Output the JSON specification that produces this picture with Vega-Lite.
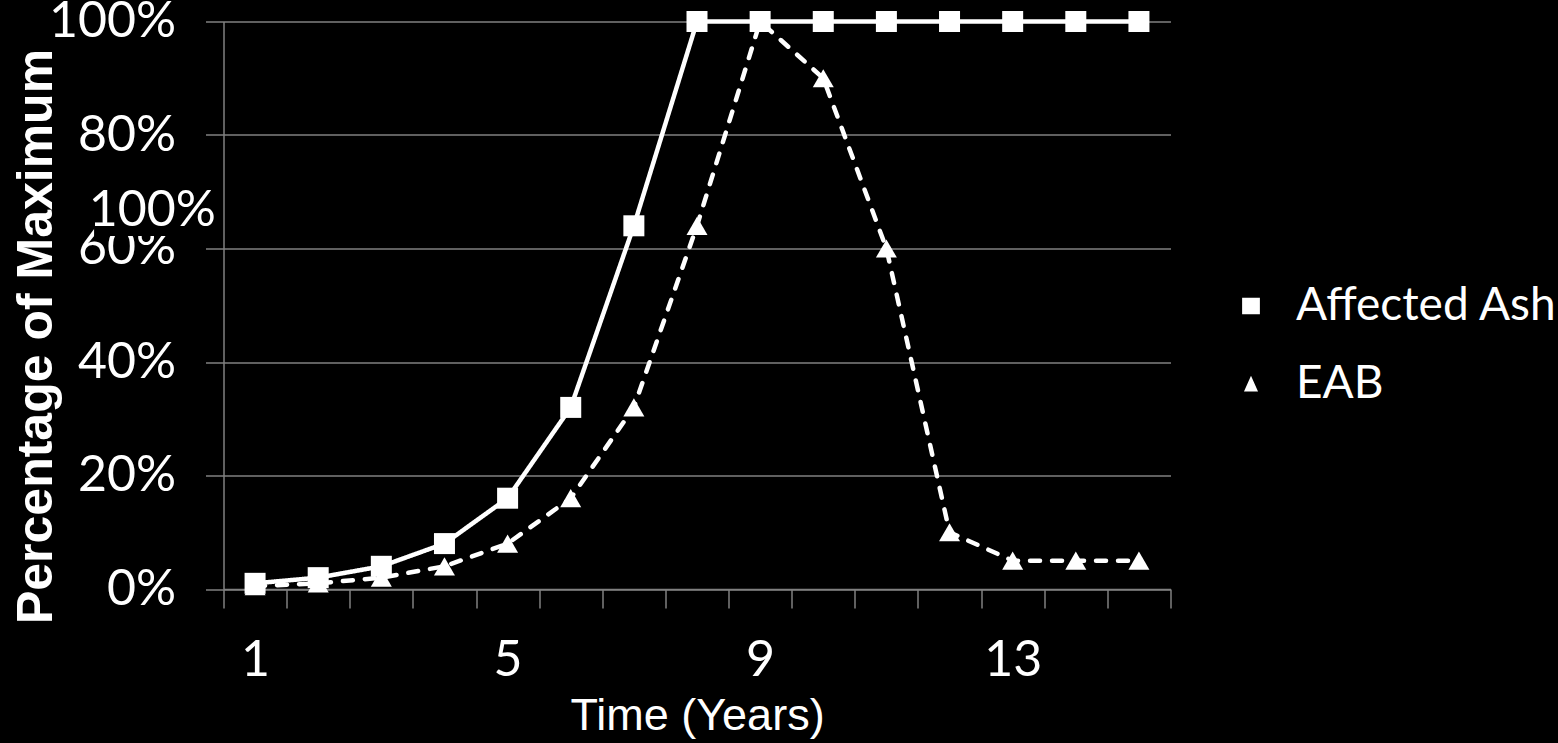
{
  "$schema": "https://vega.github.io/schema/vega-lite/v6.json",
  "width": 947,
  "height": 567.5,
  "autosize": {"type": "none"},
  "padding": {"left": 223.5, "top": 21.5, "right": 387.5, "bottom": 154},
  "background": "#000000",
  "config": {
    "view": {"stroke": null},
    "axis": {
      "domainColor": "#808080",
      "domainWidth": 1.5,
      "tickColor": "#808080",
      "tickWidth": 1.5,
      "gridColor": "#808080",
      "gridWidth": 1.5,
      "labelColor": "#ffffff",
      "labelFont": "Lato",
      "labelFontSize": 50,
      "titleColor": "#ffffff",
      "titleFont": "Liberation Sans"
    },
    "legend": {
      "title": null,
      "orient": "none",
      "legendX": 988.5,
      "padding": 0,
      "labelOffset": 6,
      "labelFont": "Lato",
      "labelFontSize": 46,
      "labelColor": "#ffffff",
      "labelLimit": 400,
      "symbolSize": 5476,
      "symbolStrokeWidth": 4,
      "symbolFillColor": "#ffffff",
      "symbolStrokeColor": "#ffffff",
      "symbolOpacity": 1
    }
  },
  "resolve": {
    "scale": {"strokeDash": "independent"},
    "legend": {"strokeDash": "independent"}
  },
  "datasets": {
    "series": [
      {"year": 1, "share": 0.005, "series": "EAB"},
      {"year": 2, "share": 0.01, "series": "EAB"},
      {"year": 3, "share": 0.02, "series": "EAB"},
      {"year": 4, "share": 0.04, "series": "EAB"},
      {"year": 5, "share": 0.08, "series": "EAB"},
      {"year": 6, "share": 0.16, "series": "EAB"},
      {"year": 7, "share": 0.32, "series": "EAB"},
      {"year": 8, "share": 0.64, "series": "EAB"},
      {"year": 9, "share": 1.0, "series": "EAB"},
      {"year": 10, "share": 0.9, "series": "EAB"},
      {"year": 11, "share": 0.6, "series": "EAB"},
      {"year": 12, "share": 0.1, "series": "EAB"},
      {"year": 13, "share": 0.05, "series": "EAB"},
      {"year": 14, "share": 0.05, "series": "EAB"},
      {"year": 15, "share": 0.05, "series": "EAB"},
      {"year": 1, "share": 0.01, "series": "Affected Ash"},
      {"year": 2, "share": 0.02, "series": "Affected Ash"},
      {"year": 3, "share": 0.04, "series": "Affected Ash"},
      {"year": 4, "share": 0.08, "series": "Affected Ash"},
      {"year": 5, "share": 0.16, "series": "Affected Ash"},
      {"year": 6, "share": 0.32, "series": "Affected Ash"},
      {"year": 7, "share": 0.64, "series": "Affected Ash"},
      {"year": 8, "share": 1.0, "series": "Affected Ash"},
      {"year": 9, "share": 1.0, "series": "Affected Ash"},
      {"year": 10, "share": 1.0, "series": "Affected Ash"},
      {"year": 11, "share": 1.0, "series": "Affected Ash"},
      {"year": 12, "share": 1.0, "series": "Affected Ash"},
      {"year": 13, "share": 1.0, "series": "Affected Ash"},
      {"year": 14, "share": 1.0, "series": "Affected Ash"},
      {"year": 15, "share": 1.0, "series": "Affected Ash"}
    ],
    "note": [
      {"note": "100%", "year": -0.63, "share": 0.666}
    ]
  },
  "layer": [
    {
      "data": {"name": "series"},
      "mark": {"type": "line", "interpolate": "linear", "color": "#ffffff", "strokeWidth": 4.5, "strokeCap": "round", "strokeJoin": "round"},
      "encoding": {
        "x": {
          "field": "year",
          "type": "quantitative",
          "title": "Time (Years)",
          "scale": {"domain": [0.5, 15.5], "nice": false, "zero": false},
          "axis": {
            "titleFontSize": 45,
            "titleFontWeight": "normal",
            "titlePadding": 8,
            "values": [0.5, 1.5, 2.5, 3.5, 4.5, 5.5, 6.5, 7.5, 8.5, 9.5, 10.5, 11.5, 12.5, 13.5, 14.5, 15.5],
            "labelExpr": "indexof([0.5, 4.5, 8.5, 12.5], datum.value) >= 0 ? format(datum.value + 0.5, 'd') : ''",
            "labelOffset": 31.55,
            "labelPadding": 27,
            "labelFlush": false,
            "labelOverlap": false,
            "labelBound": false,
            "tickSize": 19,
            "grid": false
          }
        },
        "y": {
          "field": "share",
          "type": "quantitative",
          "title": "Percentage of Maximum",
          "scale": {"domain": [0, 1], "nice": false},
          "axis": {
            "titleFontSize": 50,
            "titleFontWeight": "bold",
            "titleAngle": -90,
            "titleAlign": "center",
            "titleBaseline": "middle",
            "titleX": -187.5,
            "titleY": 314.5,
            "values": [0, 0.2, 0.4, 0.6, 0.8, 1],
            "format": ".0%",
            "tickSize": 18,
            "labelPadding": 30,
            "labelOverlap": false,
            "labelBound": false,
            "labelFlush": false,
            "grid": true
          }
        },
        "detail": {"field": "series", "type": "nominal"},
        "strokeDash": {
          "condition": {"test": "datum.series === 'EAB'", "value": [10, 12]},
          "value": [1, 0]
        }
      }
    },
    {
      "data": {"name": "series"},
      "transform": [{"filter": "datum.series === 'EAB'"}],
      "mark": {"type": "point", "shape": "triangle-up", "filled": true, "color": "#ffffff", "opacity": 1, "size": 441},
      "encoding": {
        "x": {"field": "year", "type": "quantitative", "title": "Time (Years)"},
        "y": {"field": "share", "type": "quantitative", "title": "Percentage of Maximum"}
      }
    },
    {
      "data": {"name": "series"},
      "transform": [{"filter": "datum.series === 'Affected Ash'"}],
      "mark": {"type": "point", "shape": "square", "filled": true, "color": "#ffffff", "opacity": 1, "size": 441},
      "encoding": {
        "x": {"field": "year", "type": "quantitative", "title": "Time (Years)"},
        "y": {"field": "share", "type": "quantitative", "title": "Percentage of Maximum"}
      }
    },
    {
      "data": {"name": "series"},
      "transform": [{"filter": "false"}],
      "mark": {
        "type": "point",
        "shape": "M-1,0H1M-0.24,-0.22H0.24V0.22H-0.24Z",
        "filled": true,
        "fill": "#ffffff",
        "stroke": "#ffffff",
        "strokeWidth": 4,
        "opacity": 1
      },
      "encoding": {
        "strokeDash": {
          "field": "series",
          "type": "nominal",
          "scale": {"domain": ["Affected Ash"], "range": [[1, 0]]},
          "legend": {
            "legendY": 245.5,
            "symbolType": "M-1,0H1M-0.24,-0.22H0.24V0.22H-0.24Z"
          }
        }
      }
    },
    {
      "data": {"name": "series"},
      "transform": [{"filter": "false"}],
      "mark": {
        "type": "point",
        "shape": "M-1,0H1M0,-0.22L0.19,0.2H-0.19Z",
        "filled": true,
        "fill": "#ffffff",
        "stroke": "#ffffff",
        "strokeWidth": 4,
        "opacity": 1
      },
      "encoding": {
        "strokeDash": {
          "field": "series",
          "type": "nominal",
          "scale": {"domain": ["EAB"], "range": [[17, 6]]},
          "legend": {
            "legendY": 323.5,
            "symbolType": "M-1,0H1M0,-0.22L0.19,0.2H-0.19Z"
          }
        }
      }
    },
    {
      "data": {"name": "note"},
      "mark": {"type": "rect", "color": "#000000"},
      "encoding": {
        "x": {"datum": -1.55, "type": "quantitative", "title": "Time (Years)"},
        "x2": {"datum": 0.29},
        "y": {"datum": 0.622, "type": "quantitative", "title": "Percentage of Maximum"},
        "y2": {"datum": 0.707}
      }
    },
    {
      "data": {"name": "note"},
      "mark": {"type": "text", "color": "#ffffff", "font": "Lato", "fontSize": 50, "align": "center", "baseline": "middle"},
      "encoding": {
        "x": {"field": "year", "type": "quantitative", "title": "Time (Years)"},
        "y": {"field": "share", "type": "quantitative", "title": "Percentage of Maximum"},
        "text": {"field": "note", "type": "nominal"}
      }
    }
  ]
}
